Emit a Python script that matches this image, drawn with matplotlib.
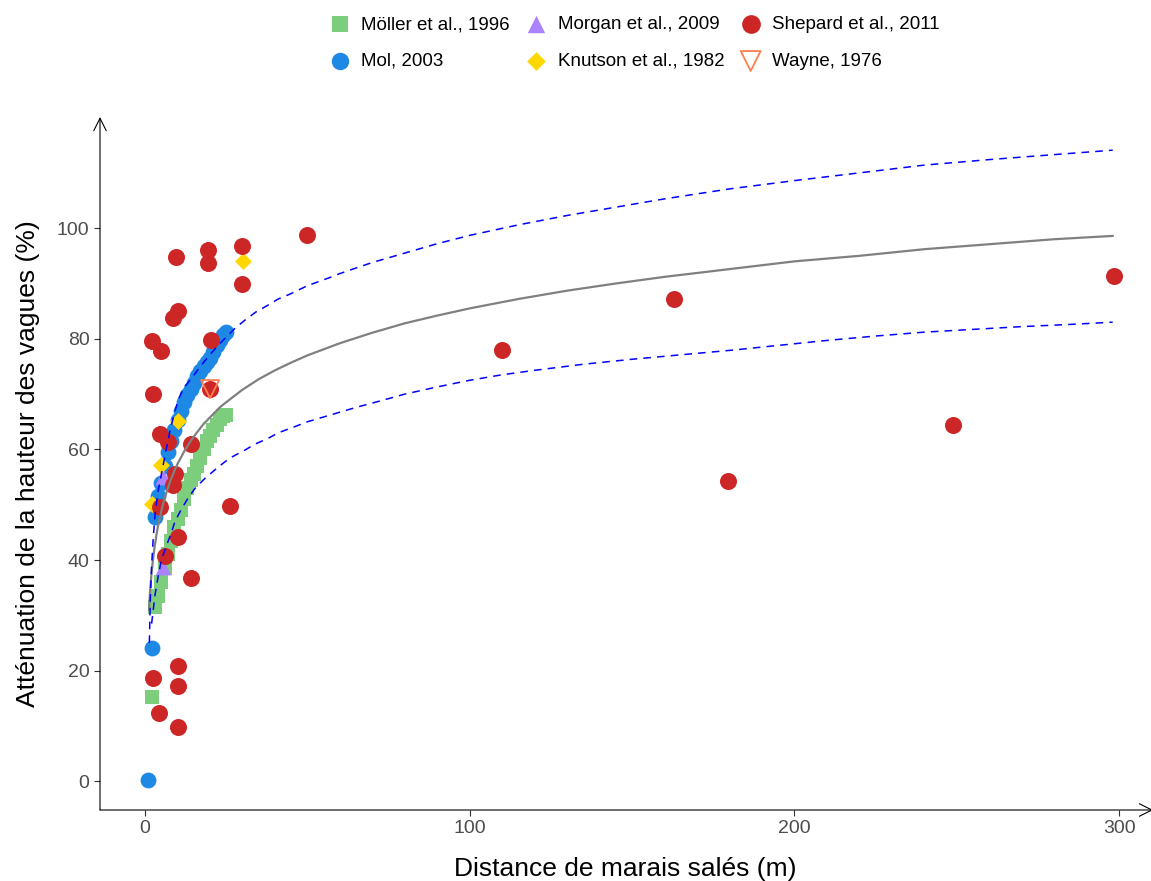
import matplotlib
matplotlib.use("Agg")
import matplotlib.pyplot as plt

plt.rcParams['font.family'] = ['Liberation Sans', 'DejaVu Sans']

# Möller et al., 1996
moller_x = [2, 3, 4, 5, 6, 7, 8, 9, 10, 11, 12, 13, 14, 15, 16, 17, 18, 19, 20, 21, 22, 23, 24, 25]
moller_y = [15.2, 31.5, 33.5, 36, 38.5, 41, 43.5, 46, 47.5, 49, 51, 53, 54.5, 55.5, 57, 58.5,
            60, 61.5, 62.5, 63.5, 64.5, 65.5, 66, 66.3]

# Mol, 2003
mol_x = [1, 2, 3, 4, 5, 6, 7, 8, 9, 10, 11, 12, 13, 14, 15, 16, 17, 18, 19, 20, 21, 22, 23, 24, 25]
mol_y = [0.2, 24.1, 47.8, 51.5, 54, 57, 59.5, 61.5, 63.5, 65.3, 67, 68.5, 69.8, 71, 72, 73.2,
         74.2, 75, 75.8, 76.6, 77.6, 78.8, 79.8, 80.6, 81.2]

# Morgan et al., 2009
morgan_x = [5.5, 5.5]
morgan_y = [55, 38.7]

# Knutson et al., 1982
knutson_x = [2, 5, 10, 30]
knutson_y = [50.2, 57.1, 65.1, 94.0]

# Shepard et al., 2011
shepard_x = [2.2, 2.5, 4.9, 4.6, 4.6, 6.2, 2.5, 4.3, 7.1, 9.5, 8.6, 10.2, 9.2, 8.6, 10.2,
             10.2, 10.2, 10.2, 14.2, 14.2, 19.4, 19.4, 20.3, 20.0, 26.2, 29.9, 29.9, 50.0,
             110, 163, 179.5, 248.8, 298.4]
shepard_y = [79.6, 70.0, 77.8, 62.7, 49.6, 40.7, 18.6, 12.4, 61.3, 94.8, 83.7, 85.0, 55.5,
             53.6, 44.1, 20.8, 17.2, 9.8, 60.9, 36.7, 96.0, 93.7, 79.7, 71.0, 49.7, 96.7,
             89.9, 98.7, 78.0, 87.2, 54.2, 64.4, 91.3]

# Wayne, 1976
wayne_x = [20]
wayne_y = [70.9]

# courbe ajustée
fit_x = [1.2, 1.5, 2, 2.5, 3, 3.5, 4, 5, 6, 7, 8, 9, 10, 12, 14, 16, 18, 20, 23, 26, 30, 35,
         40, 45, 50, 60, 70, 80, 90, 100, 115, 130, 145, 160, 180, 200, 220, 240, 260, 280, 298]
fit_y = [31.0, 34.2, 37.8, 40.5, 42.7, 44.6, 46.2, 48.9, 51.2, 53.0, 54.7, 56.1, 57.4, 59.6,
         61.5, 63.1, 64.6, 65.8, 67.6, 69.0, 70.8, 72.7, 74.3, 75.7, 77.0, 79.2, 81.1, 82.8,
         84.2, 85.5, 87.2, 88.7, 90.0, 91.2, 92.6, 94.0, 95.0, 96.2, 97.1, 98.0, 98.6]

# bornes (tirets bleus)
upper_x = [1.3, 1.6, 2, 2.5, 3.1, 4, 5, 6.5, 7.7, 9, 10.2, 12, 14.5, 17, 19.1, 22, 24.6, 27.5,
           30.8, 34, 37.9, 41, 44.7, 50, 57, 60, 70, 80, 90, 100, 115, 130, 145, 160, 180,
           200, 220, 240, 260, 280, 298]
upper_y = [25, 33, 39, 44, 48.5, 52.5, 55.5, 60, 63.5, 66.5, 69, 71.2, 73, 75, 76.5, 78.5,
           80.1, 81.8, 83.4, 84.8, 86.1, 87.2, 88.1, 89.6, 91.1, 91.8, 93.8, 95.5, 97.2, 98.7,
           100.6, 102.3, 103.8, 105.3, 107.1, 108.6, 110, 111.4, 112.4, 113.3, 114.1]

lower_x = [2.0, 2.5, 3, 3.5, 4, 5, 6.5, 8, 9.2, 11, 13, 15.4, 18.5, 22.5, 26, 30.8, 34, 37.9,
           41, 45.6, 50, 57.5, 65, 72, 80, 90, 100, 110, 120, 135, 150, 165, 180, 195, 210,
           225, 240, 255, 270, 285, 298]
lower_y = [28.5, 31, 33.5, 35.3, 37, 40, 42.5, 44.8, 47, 49, 51, 53, 54.8, 56.8, 58.4, 59.9,
           61, 62, 63, 64, 65, 66.3, 67.6, 68.7, 70, 71.3, 72.5, 73.5, 74.3, 75.4, 76.3, 77.1,
           77.9, 78.8, 79.7, 80.5, 81.2, 81.7, 82.2, 82.6, 83]

fig = plt.figure(figsize=(11.51, 8.81), dpi=100)
ax = fig.add_axes([100 / 1151, 71 / 881, 1050 / 1151, 693 / 881])

h_moller = ax.scatter(moller_x, moller_y, marker='s', s=115, color='#7CCD7C', linewidths=0,
                      label='Möller et al., 1996', zorder=2)
h_mol = ax.scatter(mol_x, mol_y, marker='o', s=130, color='#1E88E5', linewidths=0,
                   label='Mol, 2003', zorder=2)
h_morgan = ax.scatter(morgan_x, morgan_y, marker='^', s=130, color='#AB82FF', linewidths=0,
                      label='Morgan et al., 2009', zorder=2)
h_knutson = ax.scatter(knutson_x, knutson_y, marker='D', s=75, color='#FFD700', linewidths=0,
                       label='Knutson et al., 1982', zorder=2)
h_shepard = ax.scatter(shepard_x, shepard_y, marker='o', s=150, color='#CD2626', linewidths=0,
                       label='Shepard et al., 2011', zorder=2)
h_wayne = ax.scatter(wayne_x, wayne_y, marker='v', s=170, facecolors='none',
                     edgecolors='#FF7F50', linewidths=1.3, label='Wayne, 1976', zorder=3)

ax.plot(fit_x, fit_y, color='#808080', lw=1.6, zorder=4)
ax.plot(upper_x, upper_y, color='blue', lw=1.1, linestyle=(0, (5, 4)), zorder=4)
ax.plot(lower_x, lower_y, color='blue', lw=1.1, linestyle=(0, (5, 4)), zorder=4)

ax.set_xlim(-13.9, 309.5)
ax.set_ylim(-5.2, 120.1)
ax.set_xticks([0, 100, 200, 300])
ax.set_yticks([0, 20, 40, 60, 80, 100])
ax.tick_params(axis='both', labelsize=14, labelcolor='#4D4D4D', color='#333333',
               length=4, width=0.8)

for sp in ax.spines.values():
    sp.set_visible(False)

arrow = dict(arrowstyle='->,head_width=0.45,head_length=0.9', lw=0.8, color='black',
             shrinkA=0, shrinkB=0)
ax.annotate('', xy=(0, 1), xytext=(0, 0), xycoords='axes fraction', arrowprops=arrow,
            annotation_clip=False)
ax.annotate('', xy=(1.003, 0), xytext=(0, 0), xycoords='axes fraction', arrowprops=arrow,
            annotation_clip=False)

ax.set_xlabel('Distance de marais salés (m)', fontsize=19, labelpad=14)
ax.set_ylabel('Atténuation de la hauteur des vagues (%)', fontsize=19, labelpad=12)

handles = [h_moller, h_mol, h_morgan, h_knutson, h_shepard, h_wayne]
fig.legend(handles=handles, labels=[h.get_label() for h in handles], ncol=3,
           loc='upper center', bbox_to_anchor=(0.551, 1.001), frameon=False, fontsize=13.5,
           markerscale=1.1, handletextpad=0.55, columnspacing=0.8, labelspacing=1.05,
           handlelength=1.2)

fig.savefig('out.png', dpi=100)
